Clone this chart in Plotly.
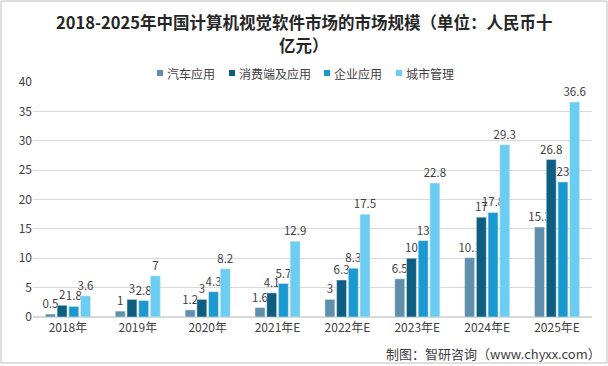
import plotly.graph_objects as go

categories = ["2018年", "2019年", "2020年", "2021年E", "2022年E", "2023年E", "2024年E", "2025年E"]
auto = [0.5, 1, 1.2, 1.6, 3, 6.5, 10.1, 15.3]
consumer = [2, 3, 3, 4.1, 6.3, 10, 17, 26.8]
enterprise = [1.8, 2.8, 4.3, 5.7, 8.3, 13, 17.8, 23]
city = [3.6, 7, 8.2, 12.9, 17.5, 22.8, 29.3, 36.6]

series = [
    ("汽车应用", auto, "#5E8FAB"),
    ("消费端及应用", consumer, "#0D5E80"),
    ("企业应用", enterprise, "#1A9AD0"),
    ("城市管理", city, "#6BCDF1"),
]
title_lines = ["2018-2025年中国计算机视觉软件市场的市场规模（单位：人民币十", "亿元）"]
source_text = "制图：智研咨询（www.chyxx.com）"

FONT = "Noto Sans CJK SC, Liberation Sans, sans-serif"
W, H = 608, 366
ML, MR, MT, MB = 33, 16, 82, 49
PW, PH = W - ML - MR, H - MT - MB


def px_x(p):
    return (p - ML) / PW


def px_y(p):
    return (H - MB - p) / PH


fig = go.Figure()
for name, vals, col in series:
    fig.add_trace(go.Bar(
        name=name, x=categories, y=vals, marker_color=col,
        text=[f"{v:g}" for v in vals], textposition="outside",
        constraintext="none",
        textfont=dict(size=11.5, color="#404040", family=FONT),
        cliponaxis=False, showlegend=False,
    ))

fig.update_layout(
    width=W, height=H,
    margin=dict(l=ML, r=MR, t=MT, b=MB, autoexpand=False),
    paper_bgcolor="white", plot_bgcolor="white",
    font=dict(family=FONT, size=12, color="#404040"),
    barmode="group", bargap=0.33, bargroupgap=0.15,
    showlegend=False,
)
fig.update_yaxes(
    range=[0, 40], dtick=5, showgrid=True, gridcolor="#D9D9D9", gridwidth=1,
    zeroline=True, zerolinecolor="#D9D9D9", tickfont=dict(size=12, color="#404040"),
    ticks="", showline=False,
)
fig.update_xaxes(
    tickfont=dict(size=12, color="#404040"), showline=True, linecolor="#D9D9D9",
    ticks="",
)

# title (two lines)
for line, yc in zip(title_lines, [22, 45]):
    fig.add_annotation(text=f"<b>{line}</b>", xref="paper", yref="paper",
                       x=px_x(W / 2), y=px_y(yc), xanchor="center", yanchor="middle",
                       showarrow=False, font=dict(size=16.5, color="#262626", family=FONT))

# manual compact legend
cw = 11.5
x = 157
ly = 73
for name, vals, col in series:
    fig.add_shape(type="rect", xref="paper", yref="paper",
                  x0=px_x(x), x1=px_x(x + 6), y0=px_y(ly + 3), y1=px_y(ly - 3),
                  line=dict(width=0), fillcolor=col)
    fig.add_annotation(text=name, xref="paper", yref="paper", x=px_x(x + 8), y=px_y(ly),
                       xanchor="left", yanchor="middle", showarrow=False,
                       font=dict(size=12, color="#404040", family=FONT))
    x = x + 8 + len(name) * cw + 18

fig.add_annotation(
    text=source_text, xref="paper", yref="paper",
    x=px_x(603), y=px_y(353), xanchor="right", yanchor="middle", showarrow=False,
    font=dict(size=13, color="#404040", family=FONT),
)
fig.add_shape(type="rect", xref="paper", yref="paper",
              x0=px_x(1), x1=px_x(W - 1), y0=px_y(H - 3), y1=px_y(1),
              line=dict(color="#BFBFBF", width=1), fillcolor="rgba(0,0,0,0)", layer="below")
fig.write_html("out.html", config={"displayModeBar": False},
               post_script="document.body.style.margin='0';document.body.style.padding='0';")
